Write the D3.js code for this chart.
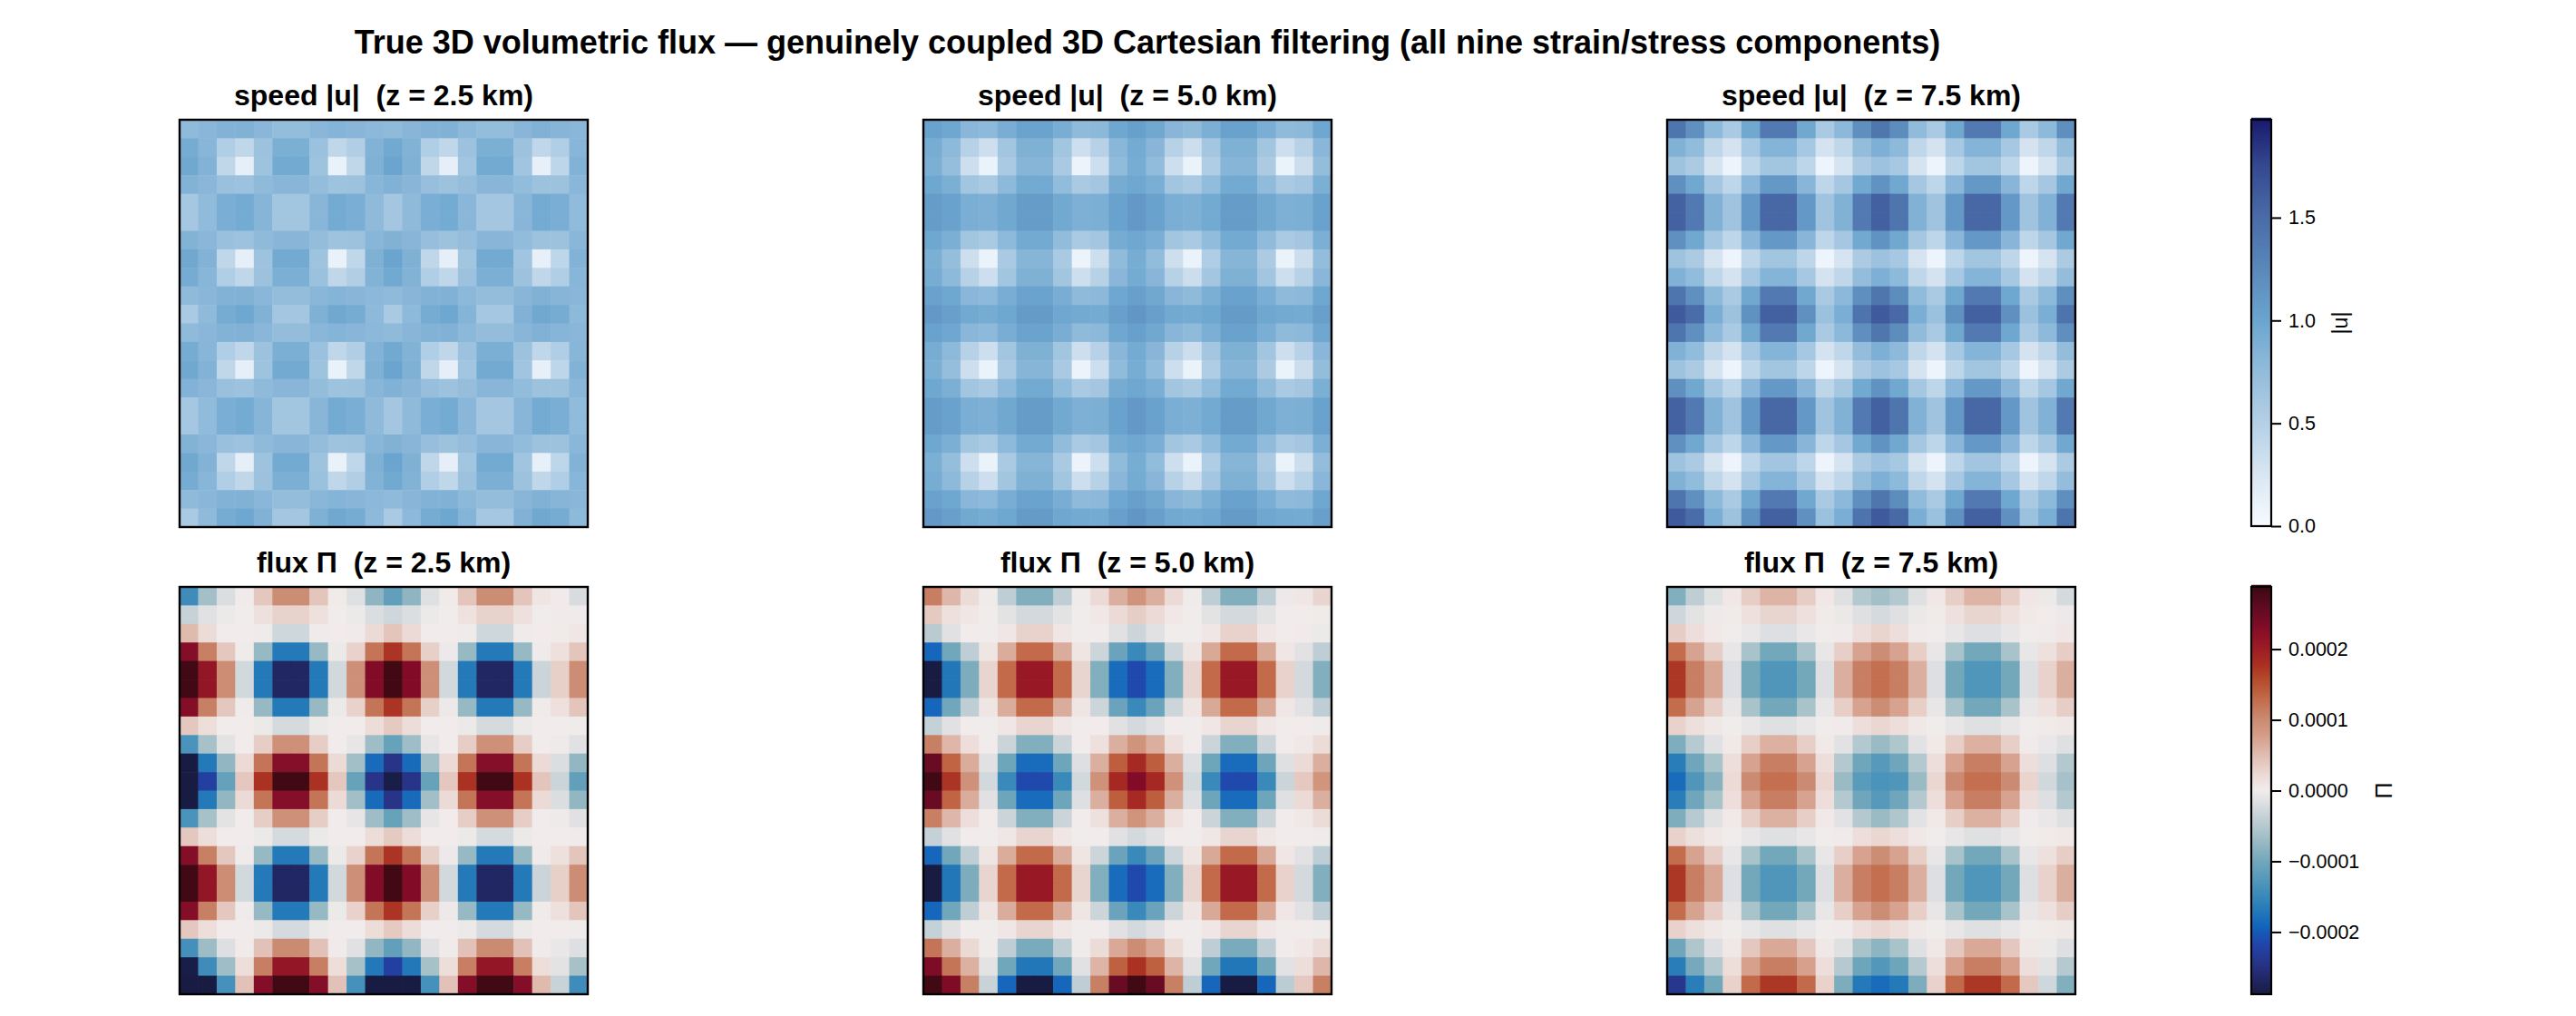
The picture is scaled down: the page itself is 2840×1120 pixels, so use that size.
<!DOCTYPE html>
<html><head><meta charset="utf-8">
<script src="https://cdn.jsdelivr.net/npm/d3@7"></script>
<style>html,body{margin:0;background:#fff}svg{display:block}text{font-family:"Liberation Sans",Arial,sans-serif;fill:#000}</style>
</head><body><svg id="c" width="2840" height="1120"></svg>
<script>
const mainTitle = "True 3D volumetric flux — genuinely coupled 3D Cartesian filtering (all nine strain/stress components)";
const levels = ["2.5","5.0","7.5"];
const xIndex = d3.range(22), yIndex = d3.range(22);

// speed |u| rows at z = 2.5 km
const s1A=[.77,.80,.85,.86,.80,.74,.74,.80,.84,.81,.79,.77,.81,.85,.86,.79,.74,.74,.81,.86,.83,.80];
const s1B=[.93,.82,.53,.42,.68,.89,.89,.69,.42,.52,.85,.96,.85,.53,.42,.67,.89,.89,.68,.42,.53,.82];
const s1C=[.97,.85,.42,.14,.66,.95,.95,.66,.12,.42,.87,1.0,.87,.42,.14,.63,.95,.95,.64,.13,.43,.85];
const s1D=[.85,.80,.70,.67,.77,.81,.81,.74,.66,.68,.82,.86,.81,.71,.68,.72,.81,.81,.75,.68,.68,.80];
const s1E=[.61,.76,.90,.94,.83,.63,.63,.81,.94,.90,.77,.62,.77,.90,.94,.80,.62,.62,.81,.94,.90,.76];
const s1F=[.58,.77,.93,.98,.86,.62,.62,.87,.97,.93,.78,.58,.78,.93,.98,.84,.61,.61,.86,.97,.93,.78];
const speed1=[s1A,s1B,s1C,s1D,s1E,s1E,s1D,s1C,s1B,s1A,s1F,s1A,s1B,s1C,s1D,s1E,s1E,s1D,s1C,s1B,s1A,s1F];

// speed |u| rows at z = 5.0 km
const s2A=[1.03,.98,.80,.78,.91,1.02,1.02,.91,.77,.79,.98,1.04,.97,.81,.77,.89,1.03,1.03,.90,.77,.79,.98];
const s2B=[.92,.78,.48,.33,.63,.87,.87,.63,.33,.48,.80,.94,.81,.48,.34,.62,.87,.87,.63,.33,.48,.80];
const s2C=[.89,.73,.33,.10,.57,.83,.83,.57,.09,.33,.76,.92,.75,.33,.10,.54,.83,.83,.56,.10,.34,.74];
const s2D=[.98,.89,.63,.57,.78,.95,.95,.75,.58,.62,.93,.98,.90,.63,.57,.75,.95,.95,.76,.57,.62,.89];
const s2E=[1.08,1.03,.90,.88,.97,1.08,1.08,.96,.88,.89,1.03,1.10,1.03,.90,.88,.95,1.08,1.08,.97,.88,.89,1.03];
const s2F=[1.11,1.05,.96,.93,.98,1.09,1.09,.98,.95,.94,1.05,1.13,1.05,.96,.94,.98,1.09,1.09,.98,.95,.94,1.05];
const speed2=[s2A,s2B,s2C,s2D,s2E,s2E,s2D,s2C,s2B,s2A,s2F,s2A,s2B,s2C,s2D,s2E,s2E,s2D,s2C,s2B,s2A,s2F];

// speed |u| rows at z = 7.5 km
const s3A=[1.42,1.18,.78,.57,.97,1.38,1.38,.97,.58,.79,1.19,1.41,1.21,.76,.58,.97,1.38,1.38,.98,.57,.78,1.19];
const s3B=[.86,.75,.42,.28,.60,.84,.84,.60,.28,.42,.74,.88,.78,.42,.28,.60,.84,.84,.60,.28,.42,.74];
const s3C=[.66,.56,.27,.08,.43,.63,.63,.43,.08,.27,.56,.67,.60,.27,.08,.43,.63,.63,.43,.08,.27,.56];
const s3D=[1.18,.97,.61,.43,.80,1.10,1.10,.81,.43,.61,.96,1.16,.97,.61,.43,.80,1.10,1.10,.81,.43,.61,.97];
const s3E=[1.57,1.38,.86,.65,1.10,1.53,1.53,1.10,.65,.86,1.38,1.58,1.42,.86,.65,1.10,1.53,1.53,1.10,.65,.86,1.38];
const s3F=[1.62,1.50,.90,.68,1.17,1.58,1.58,1.18,.69,.90,1.43,1.62,1.52,.90,.69,1.17,1.58,1.58,1.18,.69,.90,1.43];
const speed3=[s3A,s3B,s3C,s3D,s3E,s3E,s3D,s3C,s3B,s3A,s3F,s3A,s3B,s3C,s3D,s3E,s3E,s3D,s3C,s3B,s3A,s3F];

// flux Π rows at z = 2.5 km, in units of 1e-4
const f1r0=[-1.45,-.65,-.20,.02,.40,.97,.97,.42,.03,-.17,-.80,-1.15,-.80,-.17,.03,.42,.97,.97,.42,.08,.02,-.22];
const f1r1=[-.37,-.15,-.05,0,.15,.30,.30,.15,0,-.05,-.20,-.30,-.20,-.05,0,.14,.30,.30,.15,0,.02,-.01];
const f1r2=[.52,.20,.01,.01,-.02,-.30,-.30,-.02,.01,.02,.22,.42,.22,.01,.01,-.02,-.30,-.30,-.02,.01,.03,.07];
const f1r3=[2.28,1.10,.40,-.02,-.75,-1.70,-1.70,-.75,-.05,.30,1.20,1.75,1.20,.32,-.04,-.75,-1.70,-1.70,-.75,-.01,.15,.42];
const f1r4=[2.85,2.12,.98,-.27,-1.70,-2.68,-2.68,-1.70,-.27,.95,2.30,2.85,2.30,.95,-.27,-1.70,-2.68,-2.68,-1.70,-.33,.32,.98];
const f1r7=[.40,.18,.01,.01,-.05,-.25,-.25,-.05,.01,.01,.19,.37,.19,.01,.01,-.05,-.25,-.25,-.05,.01,.01,-.01];
const f1r8=[-1.35,-.62,-.13,.01,.35,.93,.93,.35,.01,-.10,-.68,-1.10,-.68,-.10,.01,.35,.93,.93,.35,.01,-.03,-.15];
const f1r9=[-2.9,-1.70,-.78,.22,1.20,2.27,2.27,1.20,.22,-.66,-1.87,-2.45,-1.87,-.66,.22,1.20,2.27,2.27,1.20,.22,-.20,-.78];
const f1r10=[-2.9,-2.25,-1.12,.40,1.76,2.85,2.85,1.76,.40,-1.10,-2.45,-2.85,-2.45,-1.10,.40,1.76,2.85,2.85,1.76,.42,-.33,-1.15];
const f1r19=[-1.40,-.70,-.18,.02,.45,1.00,1.00,.45,.02,-.15,-.78,-1.15,-.78,-.15,.02,.45,1.00,1.00,.45,.02,-.07,-.18];
const f1r20=[-2.85,-1.45,-.68,.18,1.12,2.12,2.12,1.12,.18,-.62,-1.72,-2.25,-1.72,-.62,.18,1.12,2.12,2.12,1.12,.18,-.13,-.62];
const f1r21=[-2.9,-2.9,-1.38,.45,2.28,2.85,2.85,2.28,.45,-1.38,-2.9,-2.9,-2.9,-1.38,.45,2.28,2.85,2.85,2.28,.52,-.35,-1.45];
const flux1=[f1r0,f1r1,f1r2,f1r3,f1r4,f1r4,f1r3,f1r7,f1r8,f1r9,f1r10,f1r9,f1r8,f1r7,f1r3,f1r4,f1r4,f1r3,f1r7,f1r19,f1r20,f1r21];

// flux Π rows at z = 5.0 km
const f2r0=[1.12,.55,.20,-.01,-.42,-.90,-.90,-.42,-.02,.22,.62,.90,.62,.22,-.02,-.42,-.90,-.90,-.42,-.04,.07,.27];
const f2r1=[.37,.15,.07,0,-.13,-.26,-.26,-.13,0,.06,.22,.35,.22,.06,0,-.13,-.26,-.26,-.13,.01,.01,.03];
const f2r2=[-.47,-.15,.01,0,.07,.30,.30,.07,0,.01,-.15,-.32,-.15,0,0,.07,.30,.30,.07,.01,.02,-.05];
const f2r3=[-1.90,-1.02,-.42,.08,.65,1.30,1.30,.65,.08,-.32,-1.08,-1.50,-1.08,-.32,.08,.67,1.30,1.30,.67,.07,-.14,-.42];
const f2r4=[-2.9,-1.73,-.93,.27,1.30,2.07,2.07,1.30,.27,-.90,-1.85,-2.15,-1.85,-.90,.27,1.30,2.07,2.07,1.30,.30,-.26,-.90];
const f2r7=[-.38,-.15,.01,0,.07,.27,.27,.07,0,.01,-.15,-.26,-.15,.01,0,.07,.27,.27,.07,.01,.01,-.02];
const f2r8=[1.10,.55,.17,.01,-.33,-.90,-.90,-.33,.01,.15,.62,.90,.62,.15,.01,-.33,-.90,-.90,-.33,.01,.05,.20];
const f2r9=[2.50,1.35,.65,-.15,-1.05,-1.85,-1.85,-1.05,-.18,.62,1.40,1.85,1.40,.62,-.18,-1.05,-1.85,-1.85,-1.05,-.17,.22,.62];
const f2r10=[2.85,1.75,.92,-.27,-1.50,-2.15,-2.15,-1.50,-.27,.92,1.87,2.30,1.87,.92,-.27,-1.50,-2.15,-2.15,-1.50,-.33,.38,.87];
const f2r19=[1.20,.62,.23,-.02,-.42,-.95,-.95,-.42,-.02,.20,.68,.98,.68,.20,-.02,-.42,-.95,-.95,-.42,.01,.06,.20];
const f2r20=[2.33,1.20,.60,-.13,-1.02,-1.73,-1.73,-1.02,-.15,.58,1.38,1.76,1.38,.58,-.15,-1.02,-1.73,-1.73,-1.02,-.14,.18,.55];
const f2r21=[2.85,2.33,1.10,-.35,-1.90,-2.9,-2.9,-1.90,-.42,1.10,2.50,2.85,2.50,1.10,-.42,-1.90,-2.9,-2.9,-1.90,-.45,.38,1.10];
const flux2=[f2r0,f2r1,f2r2,f2r3,f2r4,f2r4,f2r3,f2r7,f2r8,f2r9,f2r10,f2r9,f2r8,f2r7,f2r3,f2r4,f2r4,f2r3,f2r7,f2r19,f2r20,f2r21];

// flux Π rows at z = 7.5 km
const f3r0=[-.90,-.43,-.16,.06,.35,.58,.58,.35,.06,-.17,-.52,-.65,-.52,-.17,.06,.33,.58,.58,.33,.07,-.05,-.25];
const f3r1=[-.30,-.13,-.03,.03,.15,.27,.27,.15,.03,-.06,-.17,-.25,-.17,-.06,.03,.15,.27,.27,.15,.04,.01,-.04];
const f3r2=[.35,.17,.04,0,-.07,-.18,-.18,-.07,0,.02,.17,.28,.17,.02,0,-.08,-.18,-.18,-.08,0,.02,.07];
const f3r3=[1.27,.72,.35,-.08,-.60,-1.00,-1.00,-.60,-.09,.33,.73,.97,.73,.33,-.08,-.60,-1.00,-1.00,-.60,-.08,.15,.35];
const f3r4=[1.72,1.12,.70,-.18,-1.00,-1.30,-1.30,-1.00,-.18,.62,1.12,1.25,1.12,.62,-.18,-1.00,-1.30,-1.30,-1.00,-.18,.30,.62];
const f3r7=[.30,.16,.05,0,-.08,-.17,-.17,-.08,0,.02,.17,.25,.17,.05,0,-.08,-.17,-.17,-.08,0,.03,.05];
const f3r8=[-.92,-.48,-.16,.04,.33,.60,.60,.33,.04,-.14,-.52,-.72,-.55,-.14,.04,.33,.60,.60,.33,.02,-.07,-.17];
const f3r9=[-1.65,-1.03,-.60,.17,.73,1.12,1.12,.73,.17,-.52,-1.03,-1.25,-1.03,-.52,.17,.73,1.12,1.12,.73,.17,-.18,-.52];
const f3r10=[-1.85,-1.30,-.85,.22,1.00,1.25,1.25,1.00,.25,-.72,-1.22,-1.35,-1.30,-.72,.25,1.00,1.25,1.25,1.00,.28,-.28,-.63];
const f3r19=[-1.03,-.55,-.18,.05,.40,.68,.68,.40,.05,-.17,-.60,-.82,-.60,-.17,.05,.40,.68,.68,.40,.05,-.05,-.18];
const f3r20=[-1.65,-.98,-.52,.18,.75,1.12,1.12,.75,.17,-.50,-1.05,-1.27,-1.05,-.50,.17,.75,1.12,1.12,.75,.17,-.13,-.50];
const f3r21=[-2.40,-1.65,-1.02,.30,1.30,1.72,1.72,1.30,.30,-.93,-1.70,-1.85,-1.70,-.93,.30,1.30,1.72,1.72,1.30,.38,-.30,-.90];
const flux3=[f3r0,f3r1,f3r2,f3r3,f3r4,f3r4,f3r3,f3r7,f3r8,f3r9,f3r10,f3r9,f3r8,f3r7,f3r3,f3r4,f3r4,f3r3,f3r7,f3r19,f3r20,f3r21];

// colour maps
const speedStops=[0,.25,.5,.75,1,1.25,1.5,1.75,1.976];
const speedColors=["#f7fbff","#d9e6f3","#b4d0e6","#92bcdb","#6ba5cf","#5a88ba","#4a6ca8","#354991","#1a1a6e"];
const fluxStops=[-2.88,-2.5,-2.2,-1.95,-1.7,-1.4,-1,-.7,-.35,-.1,0,.2,.5,.8,1,1.3,1.6,1.8,2.05,2.3,2.6,2.88];
const fluxColors=["#181c43","#283180","#2243a8","#1262bc","#247ab9","#4490bb","#73a8bb","#9dbcc5","#c8d3d8","#e7e5e6","#f1ecec","#ecdcd8","#e0bdb1","#d49a85","#cb8b72","#c26a49","#b34729","#a92d22","#9a1a25","#820c28","#5e0b22","#3c0912"];
const speedTicks=[0,.5,1,1.5], speedTickLabels=["0.0","0.5","1.0","1.5"];
const fluxTicks=[-2,-1,0,1,2], fluxTickLabels=["−0.0002","−0.0001","0.0000","0.0001","0.0002"];

const speedColor=d3.scaleLinear().domain(speedStops).range(speedColors).clamp(true);
const fluxColor=d3.scaleLinear().domain(fluxStops).range(fluxColors).clamp(true);

const svg=d3.select("#c");
const colX=[198,1018,1838], panelW=450, panelH=449;
const rows=[{top:132,name:"speed |u|",data:[speed1,speed2,speed3],color:speedColor},
            {top:647,name:"flux Π",data:[flux1,flux2,flux3],color:fluxColor}];

svg.append("text").attr("x",1265).attr("y",59).attr("text-anchor","middle")
  .attr("font-size",36).attr("font-weight","bold").text(mainTitle);

rows.forEach(r=>{
  r.data.forEach((m,k)=>{
    const x=d3.scaleBand().domain(xIndex).range([0,panelW]);
    const y=d3.scaleBand().domain(yIndex).range([0,panelH]);
    const g=svg.append("g").attr("transform",`translate(${colX[k]},${r.top})`);
    g.selectAll("g").data(m).join("g").attr("transform",(d,i)=>`translate(0,${y(i)})`)
      .selectAll("rect").data(d=>d).join("rect")
      .attr("x",(d,i)=>x(i)).attr("width",x.bandwidth()+.5).attr("height",y.bandwidth()+.5)
      .attr("fill",d=>r.color(d));
    g.append("rect").attr("width",panelW).attr("height",panelH).attr("fill","none").attr("stroke","#000").attr("stroke-width",2.4);
    svg.append("text").attr("x",colX[k]+panelW/2).attr("y",r.top-16).attr("text-anchor","middle")
      .attr("font-size",32).attr("font-weight","bold").attr("xml:space","preserve").style("white-space","pre")
      .text(`${r.name}  (z = ${levels[k]} km)`);
  });
});

function colorbar(top,h,lo,hi,color,ticks,labels,title,titleX,titleSize){
  const barX=2482, barW=22;
  const s=d3.scaleLinear().domain([lo,hi]).range([top+h,top]);
  const g=svg.append("g");
  const vals=d3.range(0,256).map(i=>lo+(hi-lo)*i/255);
  g.selectAll("rect").data(vals).join("rect").attr("x",barX).attr("width",barW)
    .attr("y",d=>s(d)-h/256-.5).attr("height",h/256+1).attr("fill",d=>color(d));
  g.append("rect").attr("x",barX).attr("y",top).attr("width",barW).attr("height",h).attr("fill","none").attr("stroke","#000").attr("stroke-width",2.2);
  const ax=d3.axisRight(s).tickValues(ticks).tickSize(11).tickPadding(8).tickFormat((d,i)=>labels[i]);
  const a=svg.append("g").attr("transform",`translate(${barX+barW},0)`).call(ax);
  a.select(".domain").remove();
  a.selectAll("line").attr("stroke","#000").attr("stroke-width",2);
  a.selectAll("text").attr("font-size",21.5).attr("font-family",'"Liberation Sans",Arial,sans-serif').attr("fill","#000");
  svg.append("text").attr("transform",`translate(${titleX},${s((lo+hi)/2)}) rotate(-90)`).attr("text-anchor","middle")
    .attr("font-size",titleSize).text(title);
}
colorbar(132,448,0,1.976,speedColor,speedTicks,speedTickLabels,"|u|",2588,23);
colorbar(647,449,-2.88,2.88,fluxColor,fluxTicks,fluxTickLabels,"Π",2637,25);
</script></body></html>
